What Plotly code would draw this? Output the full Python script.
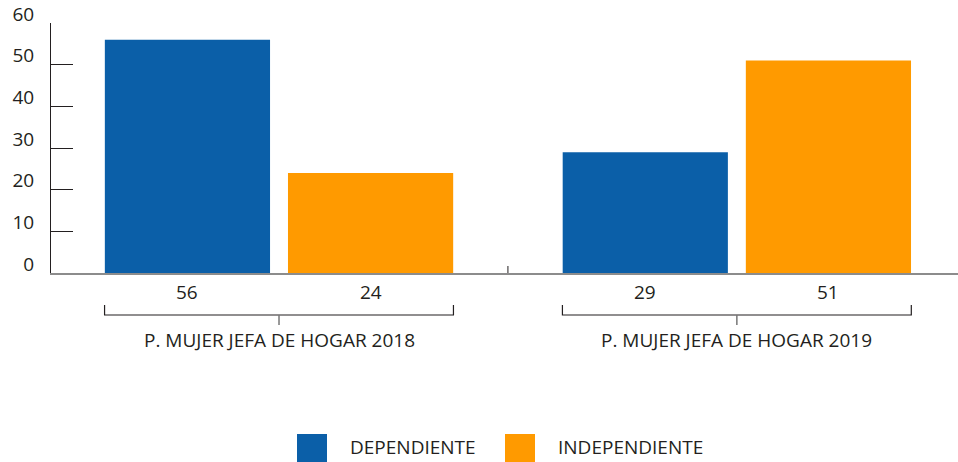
import plotly.graph_objects as go

groups = ["P. MUJER JEFA DE HOGAR 2018", "P. MUJER JEFA DE HOGAR 2019"]
series_names = ["DEPENDIENTE", "INDEPENDIENTE"]
dependiente = [56, 29]
independiente = [24, 51]
y_ticks = [0, 10, 20, 30, 40, 50, 60]
colors = ["#0B5FA8", "#FF9A00"]
text_color = "#231F20"
FONT = "Open Sans"
FS = 19

W, H = 958, 462
ML, MR, MT, MB = 51, 0, 23, 189
PW, PH = W - ML - MR, H - MT - MB

def px_x(p):
    return (p - ML) / PW

def px_y(p):
    return (H - MB - p) / PH

xs = list(range(len(groups)))
fig = go.Figure()
for name, vals, col in zip(series_names, [dependiente, independiente], colors):
    fig.add_trace(go.Bar(x=xs, y=vals, name=name, marker=dict(color=col, line=dict(width=0)),
                         showlegend=False))

fig.update_layout(
    template="none",
    width=W, height=H,
    margin=dict(l=ML, r=MR, t=MT, b=MB, autoexpand=False),
    barmode="group", bargap=0.2, bargroupgap=0.098,
    plot_bgcolor="white", paper_bgcolor="white",
    font=dict(family=FONT, size=FS, color=text_color),
    showlegend=False,
    xaxis=dict(range=[-0.498, 1.483], showticklabels=False, ticks="", showgrid=False,
               automargin=False,
               zeroline=False, showline=True, linecolor="#8C8C8C", linewidth=1.5),
    yaxis=dict(range=[0, 60], tickvals=y_ticks, ticktext=[str(v) for v in y_ticks],
               automargin=False,
               ticks="inside", ticklen=22, tickcolor="#231F20", tickwidth=1,
               showline=True, linecolor="#231F20", linewidth=1, showgrid=False, zeroline=False,
               ticklabelshift=-9, ticklabelstandoff=12,
               tickfont=dict(family=FONT, size=FS, color=text_color)),
)

half_bar = 0.2
span = 0.381
for i, g in enumerate(groups):
    for k, vals in enumerate([dependiente, independiente]):
        cx = i + (-half_bar if k == 0 else half_bar)
        fig.add_annotation(x=cx, y=px_y(292), xref="x", yref="paper", text=str(vals[i]),
                           yanchor="middle", showarrow=False, font=dict(size=FS, color=text_color))
    # bracket
    y0, y1, y2 = px_y(305), px_y(315), px_y(325)
    fig.add_shape(type="path", xref="x", yref="paper",
                  path=f"M {i-span} {y0} L {i-span} {y1} L {i+span} {y1} L {i+span} {y0}",
                  line=dict(color="#231F20", width=1.2))
    fig.add_shape(type="line", xref="x", yref="paper", x0=i, x1=i, y0=y1, y1=y2,
                  line=dict(color="#777777", width=1.5))
    fig.add_annotation(x=i, y=px_y(340), xref="x", yref="paper", text=g, showarrow=False,
                       yanchor="middle", font=dict(size=FS, color=text_color))

# separator tick between groups
fig.add_shape(type="line", xref="x", yref="paper", x0=0.5, x1=0.5, y0=0, y1=px_y(266),
              line=dict(color="#231F20", width=1))

# legend
leg = [(297, series_names[0], colors[0]), (505, series_names[1], colors[1])]
for x0, name, col in leg:
    fig.add_shape(type="rect", xref="paper", yref="paper", x0=px_x(x0), x1=px_x(x0 + 30),
                  y0=px_y(462), y1=px_y(434), fillcolor=col, line=dict(width=0))
    fig.add_annotation(x=px_x(x0 + 51), y=px_y(447), xref="paper", yref="paper", text=name,
                       xanchor="left", yanchor="middle", showarrow=False,
                       font=dict(size=FS, color=text_color))

fig.write_html("out.html", config={"displayModeBar": False},
               post_script="document.body.style.margin='0';document.body.style.overflow='hidden';")
